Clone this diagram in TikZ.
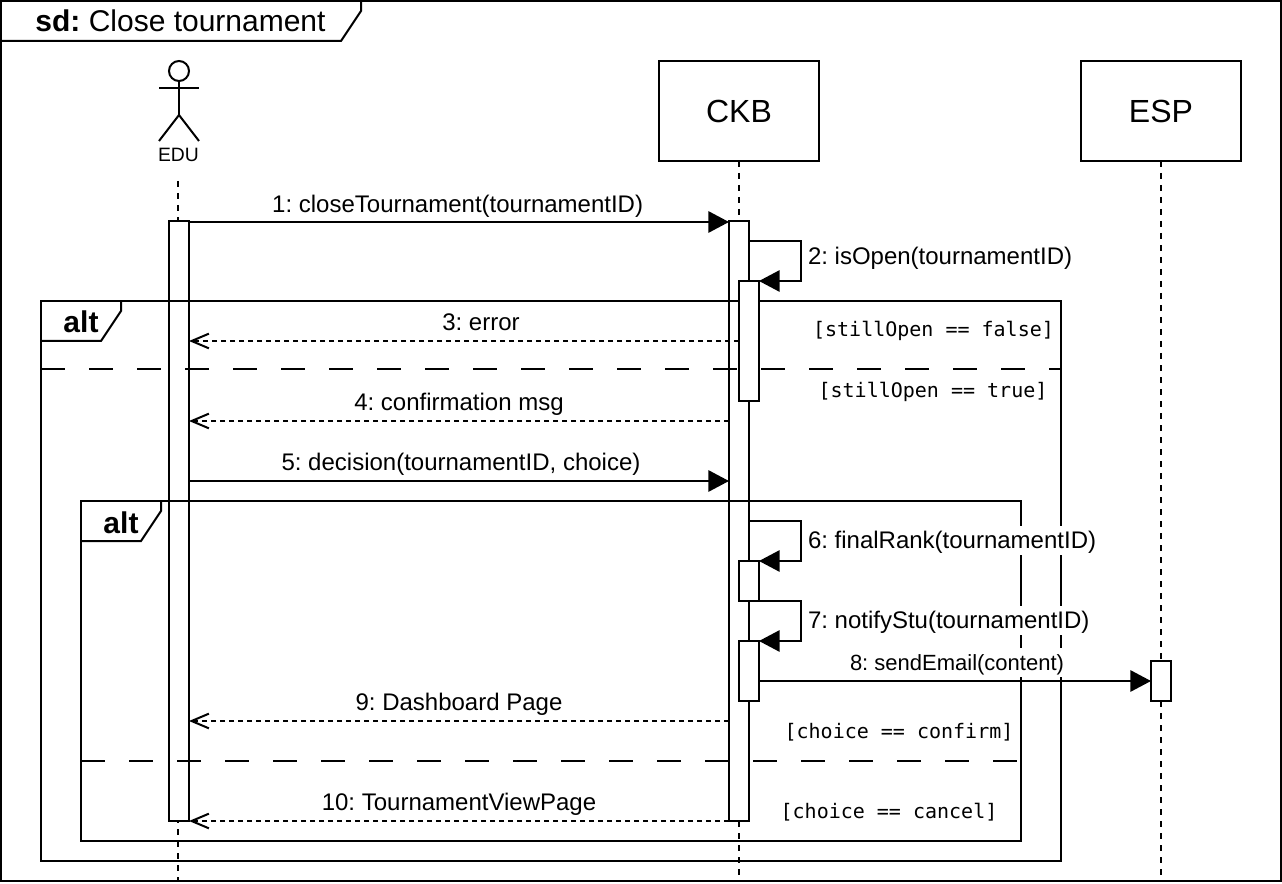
\documentclass[tikz,border=0pt]{standalone}
\usepackage{fontspec}
\setmainfont{Liberation Sans}
\setmonofont{DejaVu Sans Mono}
\usetikzlibrary{arrows.meta,positioning,calc}
\frenchspacing

\newcommand{\msgfont}{\fontsize{18pt}{22pt}\selectfont}
\newcommand{\guardfont}{\fontsize{15pt}{18pt}\selectfont\ttfamily}

\tikzset{
    lifeline/.style={line width=1.5pt, dash pattern=on 4.5pt off 4.5pt},
    headbox/.style={draw, line width=1.5pt, fill=white, minimum width=120pt, minimum height=75pt, inner sep=0pt, outer sep=0pt, font=\fontsize{24pt}{28pt}\selectfont},
    activation/.style={draw, line width=1.5pt, fill=white, minimum width=15pt, inner sep=0pt, outer sep=0pt},
    frameline/.style={line width=1.5pt},
    divider/.style={line width=1.5pt, dash pattern=on 18pt off 18pt},
    callmsg/.style={line width=1.5pt, -{Triangle[length=15.5pt,width=16pt]}},
    replymsg/.style={line width=1.5pt, dash pattern=on 4pt off 2.75pt, -{Straight Barb[length=13pt,width=11pt]}},
    msglabel/.style={font=\msgfont, fill=white, inner sep=0pt, outer sep=0pt, text height=16.5pt, text depth=5.25pt},
    guard/.style={font=\guardfont, inner sep=0pt},
    tabtext/.style={font=\fontsize{22.5pt}{26pt}\selectfont\bfseries, inner sep=0pt}
}

\begin{document}
\begin{tikzpicture}[x=0.75pt, y=-0.75pt]
    \useasboundingbox (0,0) rectangle (1282,884);
    \fill[white] (0,0) rectangle (1282,884);

    % message heights
    \coordinate (y1) at (0,222);
    \coordinate (y3) at (0,341);
    \coordinate (y4) at (0,421);
    \coordinate (y5) at (0,481);
    \coordinate (y8) at (0,681);
    \coordinate (y9) at (0,721);
    \coordinate (E1) at (178,181);
    \coordinate (E2) at (178,881);
    \coordinate (C2) at (739,877);
    \coordinate (S2) at (1161,877);

    % outer frame
    \draw[frameline] (1,1) rectangle (1281,881);
    \draw[frameline] (1,41) -- (341,41) -- (361,11) -- (361,1);
    \node[font=\fontsize{22.5pt}{26pt}\selectfont, inner sep=0pt, anchor=base] (sdTitle) at (180.5,32) {\textbf{sd:} Close tournament};

    % actor
    \draw[frameline] (179,71) circle (10);
    \draw[frameline] (159,88) -- (199,88);
    \draw[frameline] (179,81) -- (179,115);
    \draw[frameline] (159,141) -- (179,115) -- (199,141);
    \node[font=\fontsize{14.5pt}{16pt}\selectfont, inner sep=0pt] (eduName) at (178.5,155) {EDU};

    \node[headbox] (ckbBox) at (739,111) {CKB};
    \node[headbox] (espBox) at (1161,111) {ESP};

    % lifelines
    \draw[lifeline] (E1) -- (E2);
    \draw[lifeline] (ckbBox.south) -- (C2);
    \draw[lifeline] (espBox.south) -- (S2);

    % main activations
    \node[activation, minimum height=450pt] (eduBar) at (179,521) {};
    \node[activation, minimum height=450pt] (ckbBar) at (739,521) {};
    \node[activation, minimum height=30pt] (espBar) at (1161,681) {};

    % alt frames
    \draw[frameline] (41,301) rectangle (1061,861);
    \draw[frameline] (41,341) -- (101,341) -- (121,311) -- (121,301);
    \node[tabtext, anchor=base] (altOuter) at (81,333) {alt};
    \draw[divider] (41,369) -- (1061,369);
    \draw[frameline] (81,501) rectangle (1021,841);
    \draw[frameline] (81,541) -- (141,541) -- (161,511) -- (161,501);
    \node[tabtext, anchor=base] (altInner) at (121,533) {alt};
    \draw[divider] (81,761) -- (1021,761);

    % nested activations
    \node[activation, minimum height=90pt] (openBar) at (749,341) {};
    \node[activation, minimum height=30pt] (rankBar) at (749,581) {};
    \node[activation, minimum height=45pt] (notifyBar) at (749,671) {};

    % messages
    \draw[callmsg] (eduBar.east |- y1) -- node[msglabel, above=1.5pt, xshift=-1pt] (m1) {1: closeTournament(tournamentID)} (ckbBar.west |- y1);
    \draw[replymsg] (openBar.west |- y3) -- node[msglabel, above=3pt, xshift=12.75pt] (m3) {3: error} (eduBar.east |- y3);
    \draw[replymsg] (ckbBar.west |- y4) -- node[msglabel, above=3pt] (m4) {4: confirmation msg} (eduBar.east |- y4);
    \draw[callmsg] (eduBar.east |- y5) -- node[msglabel, above=3pt, xshift=1.5pt] (m5) {5: decision(tournamentID, choice)} (ckbBar.west |- y5);
    \draw[callmsg] (notifyBar.east |- y8) -- node[msglabel, font=\fontsize{16.5pt}{20pt}\selectfont, above=3pt, xshift=1.5pt] (m8) {8: sendEmail(content)} (espBar.west |- y8);
    \draw[replymsg] (ckbBar.west |- y9) -- node[msglabel, above=3pt] (m9) {9: Dashboard Page} (eduBar.east |- y9);
    \draw[replymsg] (ckbBar.south west) -- node[msglabel, above=3pt] (m10) {10: TournamentViewPage} (eduBar.south east);

    % self calls
    \draw[callmsg] (749,241) -- (801,241) -- (801,281) -- (openBar.north east);
    \draw[callmsg] (749,521) -- (801,521) -- (801,561) -- (rankBar.north east);
    \draw[callmsg] (749,601) -- (801,601) -- (801,641) -- (notifyBar.north east);
    \node[msglabel, anchor=base west] (m2) at (808,265) {2: isOpen(tournamentID)};
    \node[msglabel, anchor=base west] (m6) at (808,548) {6: finalRank(tournamentID)};
    \node[msglabel, anchor=base west] (m7) at (808,628) {7: notifyStu(tournamentID)};

    % guards
    \node[guard] (g1) at (933.5,331) {[stillOpen == false]};
    \node[guard] (g2) at (933,392) {[stillOpen == true]};
    \node[guard] (g3) at (899,732) {[choice == confirm]};
    \node[guard] (g4) at (889,812) {[choice == cancel]};
\end{tikzpicture}
\end{document}
